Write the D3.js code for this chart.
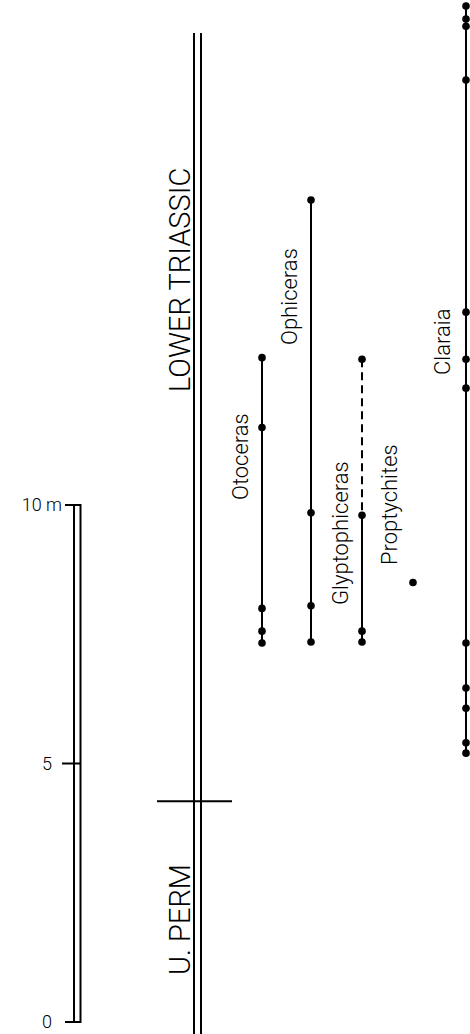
<!DOCTYPE html>
<html>
<head>
<meta charset="utf-8">
<script src="https://cdn.jsdelivr.net/npm/d3@7"></script>
<style>
  html, body { margin: 0; padding: 0; background: #fff; }
  svg { display: block; }
  text { font-family: Roboto, "Liberation Sans", sans-serif; font-weight: 300; fill: #000; }
</style>
</head>
<body>
<svg id="chart" width="470" height="1034"></svg>
<script>
// Stratigraphic ranges (metres above base of section)
const taxa = ["Otoceras", "Ophiceras", "Glyptophiceras", "Proptychites", "Claraia"];
const otocerasLevels = [12.85, 11.5, 8.0, 7.56, 7.33];
const ophicerasLevels = [15.9, 9.85, 8.05, 7.35];
const glyptophicerasLevels = [12.82, 9.8, 7.56, 7.35];
const glyptophicerasUncertainTop = 9.8;   // range above this level is dashed
const proptychitesLevels = [8.5];
const claraiaLevels = [19.65, 19.4, 19.26, 18.22, 13.73, 12.82, 12.26, 7.33, 6.46, 6.07, 5.4, 5.2];

const scaleTicks = [0, 5, 10];
const scaleTickLabels = ["0", "5", "10 m"];
const systemBoundary = 4.27;
const columnTop = 19.13;
const stageLabels = ["U. PERM", "LOWER TRIASSIC"];

const svg = d3.select("#chart");
const y = d3.scaleLinear().domain([0, 10]).range([1022, 505]);

// ---- metre scale bar ----
const bar = svg.append("g");
bar.append("rect")
  .attr("x", 74).attr("y", y(10))
  .attr("width", 6.5).attr("height", y(0) - y(10))
  .attr("fill", "none").attr("stroke", "#000").attr("stroke-width", 2);
bar.selectAll("line.tick").data(scaleTicks).join("line")
  .attr("class", "tick")
  .attr("x1", d => d === 5 ? 62 : 65).attr("x2", 81)
  .attr("y1", d => y(d)).attr("y2", d => y(d))
  .attr("stroke", "#000").attr("stroke-width", 2);
bar.selectAll("text.lab").data(scaleTicks).join("text")
  .attr("class", "lab")
  .attr("x", d => d === 10 ? 62 : 52).attr("y", d => y(d))
  .attr("dy", "0.35em")
  .attr("text-anchor", "end")
  .attr("font-size", 18)
  .text((d, i) => scaleTickLabels[i]);

// ---- section column (double rule) ----
const col = svg.append("g");
[194, 201].forEach(x => {
  col.append("line")
    .attr("x1", x).attr("x2", x)
    .attr("y1", y(columnTop)).attr("y2", 1034)
    .attr("stroke", "#000").attr("stroke-width", 2);
});
col.append("line")
  .attr("x1", 157).attr("x2", 232)
  .attr("y1", y(systemBoundary)).attr("y2", y(systemBoundary))
  .attr("stroke", "#000").attr("stroke-width", 2);

// rotated labels
function vlabel(x, yPos, txt, size) {
  svg.append("text")
    .attr("transform", `translate(${x},${yPos}) rotate(-90)`)
    .attr("font-size", size)
    .text(txt);
}
vlabel(190, 975, stageLabels[0], 29);
vlabel(190, 392, stageLabels[1], 29);

// ---- taxon ranges ----
function range(x, levels, dashedAbove) {
  const g = svg.append("g");
  const top = d3.max(levels), bot = d3.min(levels);
  if (dashedAbove !== undefined) {
    g.append("line").attr("x1", x).attr("x2", x)
      .attr("y1", y(top)).attr("y2", y(dashedAbove))
      .attr("stroke", "#000").attr("stroke-width", 2)
      .attr("stroke-dasharray", "8,5");
    g.append("line").attr("x1", x).attr("x2", x)
      .attr("y1", y(dashedAbove)).attr("y2", y(bot))
      .attr("stroke", "#000").attr("stroke-width", 2);
  } else if (top !== bot) {
    g.append("line").attr("x1", x).attr("x2", x)
      .attr("y1", y(top)).attr("y2", y(bot))
      .attr("stroke", "#000").attr("stroke-width", 2);
  }
  g.selectAll("circle").data(levels).join("circle")
    .attr("cx", x).attr("cy", d => y(d)).attr("r", 3.8)
    .attr("fill", "#000");
}
range(262, otocerasLevels);
range(311, ophicerasLevels);
range(362, glyptophicerasLevels, glyptophicerasUncertainTop);
range(413, proptychitesLevels);
range(466, claraiaLevels);

// taxon names
vlabel(248, 500, taxa[0], 22);
vlabel(297, 345, taxa[1], 22);
vlabel(348, 605, taxa[2], 22);
vlabel(397, 565, taxa[3], 22);
vlabel(450, 375, taxa[4], 22);
</script>
</body>
</html>
